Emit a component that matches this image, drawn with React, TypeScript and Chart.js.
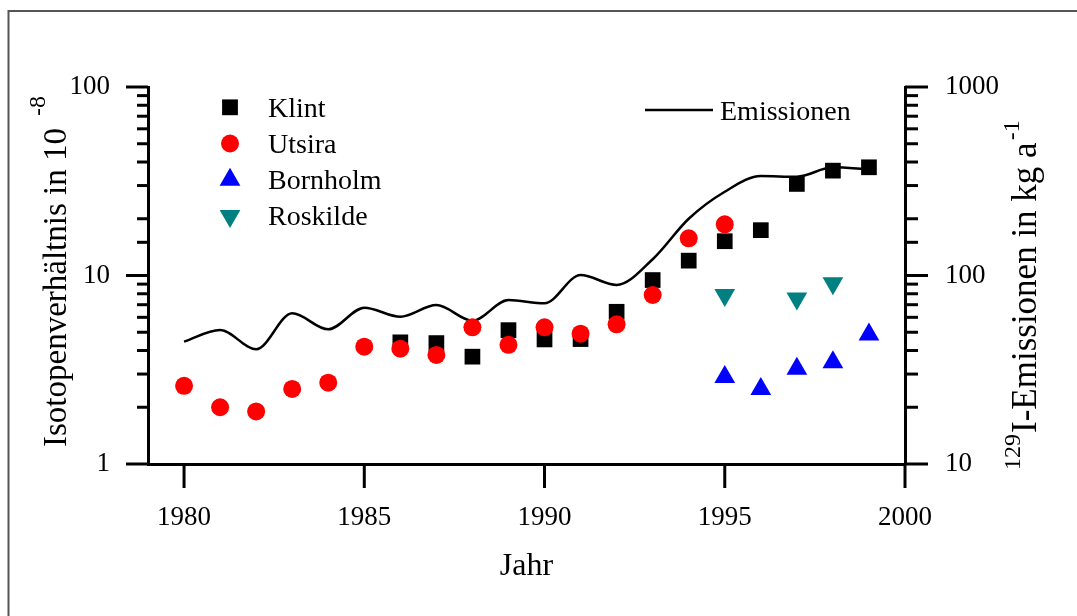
import React, { useEffect, useRef } from "react";
import { Chart, registerables } from "chart.js";

Chart.register(...registerables);

const FONT = '"Liberation Serif", "Times New Roman", serif';

// ---------- data ----------
const klintYears = [1986, 1987, 1988, 1989, 1990, 1991, 1992, 1993, 1994, 1995, 1996, 1997, 1998, 1999];
const klintValues = [4.42, 4.38, 3.71, 5.13, 4.58, 4.6, 6.42, 9.46, 11.99, 15.2, 17.4, 30.6, 36.0, 37.5];

const utsiraYears = [1980, 1981, 1982, 1983, 1984, 1985, 1986, 1987, 1988, 1989, 1990, 1991, 1992, 1993, 1994, 1995];
const utsiraValues = [2.6, 2.0, 1.9, 2.5, 2.7, 4.19, 4.09, 3.79, 5.31, 4.29, 5.31, 4.91, 5.51, 7.88, 15.75, 18.69];

const bornholmYears = [1995, 1996, 1997, 1998, 1999];
const bornholmValues = [2.89, 2.5, 3.2, 3.47, 4.86];

const roskildeYears = [1995, 1997, 1998];
const roskildeValues = [7.88, 7.56, 9.1];

const emissionYears = [1980, 1981, 1982, 1983, 1984, 1985, 1986, 1987, 1988, 1989, 1990, 1991, 1992, 1993, 1994, 1995, 1996, 1997, 1998, 1999];
const emissionValues = [44.6, 51.4, 40.6, 63, 51.8, 67.5, 60.4, 69.7, 57.6, 74.1, 71.2, 100.6, 89.1, 122, 200, 278, 337, 334, 375, 366];

const xTickValues = [1980, 1985, 1990, 1995, 2000];

const legendLeft = [
  { label: "Klint", color: "#000000", style: "rect" },
  { label: "Utsira", color: "#ff0000", style: "circle" },
  { label: "Bornholm", color: "#0000ff", style: "triUp" },
  { label: "Roskilde", color: "#008080", style: "triDown" },
];
const legendLine = "Emissionen";

const toXY = (xs: number[], ys: number[]) => xs.map((x, i) => ({ x, y: ys[i] }));

const isPow10 = (v: number) => Math.abs(Math.log10(v) - Math.round(Math.log10(v))) < 1e-6;

const overlayPlugin = {
  id: "overlay",
  beforeDraw(chart: any) {
    const ctx = chart.ctx;
    ctx.save();
    ctx.strokeStyle = "#555555";
    ctx.lineWidth = 2;
    ctx.beginPath();
    ctx.moveTo(8.5, 700);
    ctx.lineTo(8.5, 11);
    ctx.lineTo(1200, 11);
    ctx.stroke();
    ctx.restore();
  },
  afterDraw(chart: any) {
    const { ctx, scales, chartArea } = chart;
    const sx = scales.x, sy = scales.y, sy2 = scales.y2;
    ctx.save();
    ctx.strokeStyle = "#000";
    ctx.lineWidth = 3;
    ctx.lineCap = "butt";
    const seg = (x1: number, y1: number, x2: number, y2: number) => {
      ctx.beginPath();
      ctx.moveTo(x1, y1);
      ctx.lineTo(x2, y2);
      ctx.stroke();
    };
    // left axis ticks (outward)
    for (const t of sy.ticks) {
      const py = sy.getPixelForValue(t.value);
      const len = isPow10(t.value) ? 22 : 11;
      seg(chartArea.left, py, chartArea.left - len, py);
    }
    // right axis ticks (outward)
    for (const t of sy2.ticks) {
      const py = sy2.getPixelForValue(t.value);
      const len = isPow10(t.value) ? 23 : 13;
      seg(chartArea.right, py, chartArea.right + len, py);
    }
    // x axis ticks (downward)
    for (const t of sx.ticks) {
      const px = sx.getPixelForValue(t.value);
      seg(px, chartArea.bottom, px, chartArea.bottom + 24);
    }

    // legend (left)
    ctx.fillStyle = "#000";
    ctx.font = `28px ${FONT}`;
    ctx.textBaseline = "alphabetic";
    ctx.textAlign = "left";
    legendLeft.forEach((item, i) => {
      const cy = 107.3 + i * 36.2;
      const cx = 230;
      ctx.fillStyle = item.color;
      ctx.beginPath();
      if (item.style === "rect") {
        ctx.rect(cx - 7.9, cy - 7.9, 15.8, 15.8);
      } else if (item.style === "circle") {
        ctx.arc(cx, cy, 9, 0, Math.PI * 2);
      } else {
        const R = 12;
        const dir = item.style === "triUp" ? 1 : -1;
        ctx.moveTo(cx, cy - dir * R);
        ctx.lineTo(cx + R * Math.sin((2 * Math.PI) / 3), cy + dir * R / 2);
        ctx.lineTo(cx - R * Math.sin((2 * Math.PI) / 3), cy + dir * R / 2);
        ctx.closePath();
      }
      ctx.fill();
      ctx.fillStyle = "#000";
      ctx.fillText(item.label, 268, cy + 9.4);
    });
    // legend (line)
    ctx.lineWidth = 2.5;
    seg(645, 110, 713, 110);
    ctx.fillText(legendLine, 720, 119.5);

    // left axis title
    ctx.save();
    ctx.translate(66, 447);
    ctx.rotate(-Math.PI / 2);
    ctx.font = `33px ${FONT}`;
    const mainL = "Isotopenverhältnis in 10";
    ctx.fillText(mainL, 0, 0);
    const wL = ctx.measureText(mainL).width;
    ctx.font = `24px ${FONT}`;
    ctx.fillText("-8", wL + 12, -21);
    ctx.restore();

    // right axis title
    ctx.save();
    ctx.translate(1036, 470);
    ctx.rotate(-Math.PI / 2);
    ctx.font = `24px ${FONT}`;
    ctx.fillText("129", 0, -16);
    const w129 = ctx.measureText("129").width;
    ctx.font = `35px ${FONT}`;
    const mainR = "I-Emissionen in kg a";
    ctx.fillText(mainR, w129 + 1, 0);
    const wR = ctx.measureText(mainR).width;
    ctx.font = `24px ${FONT}`;
    ctx.fillText("-1", w129 + wR + 3, -17);
    ctx.restore();

    ctx.restore();
  },
};

export default function App() {
  const ref = useRef<HTMLCanvasElement | null>(null);

  useEffect(() => {
    if (!ref.current) return;
    const tickFont = { family: FONT, size: 27 };
    const chart = new Chart(ref.current, {
      type: "line",
      data: {
        datasets: [
          {
            label: "Emissionen",
            data: toXY(emissionYears, emissionValues),
            yAxisID: "y2",
            borderColor: "#000",
            borderWidth: 2.5,
            pointRadius: 0,
            cubicInterpolationMode: "monotone",
            fill: false,
            order: 5,
          },
          {
            label: "Klint",
            data: toXY(klintYears, klintValues),
            yAxisID: "y",
            showLine: false,
            pointStyle: "rect",
            pointRadius: 11.1,
            pointBackgroundColor: "#000000",
            pointBorderWidth: 0,
            order: 4,
          },
          {
            label: "Roskilde",
            data: toXY(roskildeYears, roskildeValues),
            yAxisID: "y",
            showLine: false,
            pointStyle: "triangle",
            pointRotation: 180,
            pointRadius: 12,
            pointBackgroundColor: "#008080",
            pointBorderWidth: 0,
            order: 3,
          },
          {
            label: "Bornholm",
            data: toXY(bornholmYears, bornholmValues),
            yAxisID: "y",
            showLine: false,
            pointStyle: "triangle",
            pointRadius: 12,
            pointBackgroundColor: "#0000ff",
            pointBorderWidth: 0,
            order: 2,
          },
          {
            label: "Utsira",
            data: toXY(utsiraYears, utsiraValues),
            yAxisID: "y",
            showLine: false,
            pointStyle: "circle",
            pointRadius: 9,
            pointBackgroundColor: "#ff0000",
            pointBorderWidth: 0,
            order: 1,
          },
        ],
      },
      options: {
        responsive: false,
        animation: false,
        devicePixelRatio: 1,
        layout: { padding: { top: 87, left: 0, right: 0, bottom: 0 } },
        plugins: {
          legend: { display: false },
          tooltip: { enabled: false },
          title: { display: false },
        },
        scales: {
          x: {
            type: "linear",
            min: 1979,
            max: 2000,
            afterBuildTicks: (s: any) => {
              s.ticks = xTickValues.map((v) => ({ value: v }));
            },
            afterFit: (s: any) => {
              s.height = 152;
            },
            grid: { display: false, drawTicks: false },
            border: { display: true, color: "#000", width: 3 },
            ticks: {
              font: tickFont,
              color: "#000",
              padding: 38,
              maxRotation: 0,
              autoSkip: false,
              callback: (v: any) => String(v),
            },
            title: {
              display: true,
              text: "Jahr",
              color: "#000",
              font: { family: FONT, size: 32 },
              padding: { top: 0, bottom: 30 },
            },
          },
          y: {
            type: "logarithmic",
            position: "left",
            min: 1,
            max: 100,
            afterFit: (s: any) => {
              s.width = 148;
            },
            grid: { display: false, drawTicks: false },
            border: { display: true, color: "#000", width: 3 },
            ticks: {
              font: tickFont,
              color: "#000",
              padding: 38,
              autoSkip: false,
              callback: (v: any) => (isPow10(Number(v)) ? String(Math.round(Number(v))) : ""),
            },
          },
          y2: {
            type: "logarithmic",
            position: "right",
            min: 10,
            max: 1000,
            afterFit: (s: any) => {
              s.width = 172;
            },
            grid: { display: false, drawTicks: false },
            border: { display: true, color: "#000", width: 3 },
            ticks: {
              font: tickFont,
              color: "#000",
              padding: 40,
              autoSkip: false,
              callback: (v: any) => (isPow10(Number(v)) ? String(Math.round(Number(v))) : ""),
            },
          },
        },
      } as any,
      plugins: [overlayPlugin],
    });
    return () => chart.destroy();
  }, []);

  return (
    <div style={{ position: "fixed", left: 0, top: 0, width: 1077, height: 616, background: "#fff" }}>
      <canvas ref={ref} width={1077} height={616} style={{ display: "block" }} />
    </div>
  );
}
